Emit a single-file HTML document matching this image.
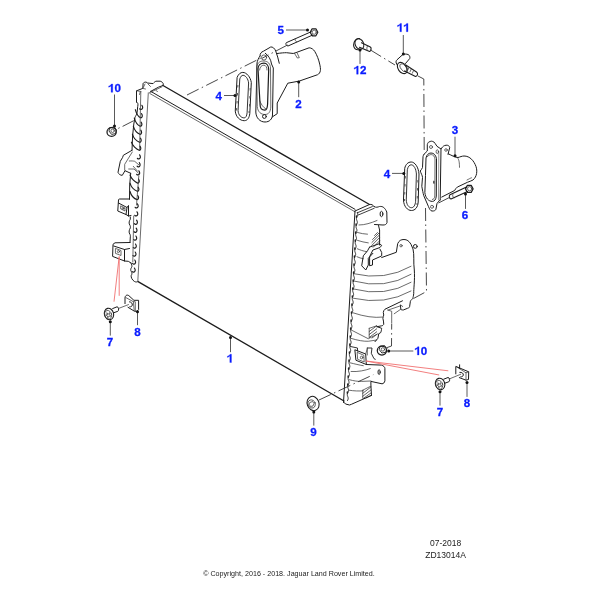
<!DOCTYPE html>
<html><head><meta charset="utf-8">
<style>
html,body{margin:0;padding:0;background:#fff;width:600px;height:600px;overflow:hidden}
svg{display:block;filter:blur(0.3px)}
.l{fill:none;stroke:#1c1c1c;stroke-width:1;stroke-linejoin:round;stroke-linecap:round}
.t{fill:none;stroke:#3a3a3a;stroke-width:0.75;stroke-linejoin:round;stroke-linecap:round}
.h{fill:none;stroke:#1c1c1c;stroke-width:1.35;stroke-linecap:round}
.d{fill:none;stroke:#333;stroke-width:0.9;stroke-dasharray:13 3.5 1.5 3.5}
.ld{fill:none;stroke:#5a5a5a;stroke-width:1}
.dot{fill:#111}
.r{fill:none;stroke:#f07070;stroke-width:0.9}
.lab{font-family:"Liberation Sans",sans-serif;font-weight:bold;font-size:11.6px;fill:#0a1cff;stroke:#0a1cff;stroke-width:0.3px;text-anchor:middle}
.txt{font-family:"Liberation Sans",sans-serif;fill:#222}
</style></head>
<body>
<svg width="600" height="600" viewBox="0 0 600 600">
<path class="h" d="M163,85.5 L369.5,204.5" />
<path class="l" d="M150.8,91.4 L355,209.3" />
<path class="t" d="M150,93.6 L355,211.8" />
<path class="t" d="M148.3,92.8 L137.8,281.5" />
<path class="h" d="M138.5,281.8 L344,401" />
<path class="l" d="M355,211 L343.5,402.5" />
<path class="l" d="M136.5,102 L136.5,90.8 L142.8,88.4 L143.1,83.5 C143.5,82.5 145,82 146.1,82.1 L147.6,83 L153,83.6 C154,82.5 155,81.5 156,81.2 L160.2,81.2 C161.5,81.5 162.8,82.5 163.2,83.6 L163.2,85.4 L158.4,87.2 L150.6,91.4" />
<path class="t" d="M136.5,90.8 L141,91.5 M142.8,88.4 L145.5,89 M143.3,87.5 L145,84 M148,84 L150.5,86.5 M149.4,92.8 L162,86.8 M156,90.5 L157.5,91.5" />
<path class="l" d="M136.5,102 C138,102.5 138.3,104 137.7,106.6 L137.1,112.6 C136.5,115 135.5,116 135,117.4 L133.8,124 L132.6,136 L132,150.3" />
<path class="l" d="M132,150.3 L123.3,155.3 L122.7,157.3 L120.3,161.3 L118,172.3 C118.5,174 120.5,175.5 122.3,175.3 L125,170.7 L130.7,173.3" />
<path class="t" d="M132.3,152 L124.7,164.3 L124.7,170.3" />
<path class="t" d="M129.3,161 C131.5,160.8 133.5,161 134.7,161.3 L138.7,164.7 M128.7,169 L134,169 L138.3,173 M133.3,166.3 L137.3,171" />
<path class="l" d="M130.7,173.3 L129.7,185 L129.5,199.3" />
<path class="l" d="M129.5,199 L119.5,199 C118.8,199 118.5,199.5 118.5,200 L117.75,211 L126,214.5 L128.5,216 L131,215.5" />
<path class="l" d="M118.5,203 L127,207.5 L126,214.5 M127,207.5 L128.5,205.5 L128.5,216" />
<path class="t" d="M121,206 L125,208 L125,211 L121,209 Z" />
<circle cx="123" cy="208.5" r="0.9" class="t"/>
<path class="l" d="M130.3,217 L130.3,219.3 C129,221 129,223 129.3,224 C130.5,226 130.5,227 130.3,228 C129,230 129,232 129.3,233 C130.5,235 130.5,236 130.3,237 L130,242.5" />
<path class="l" d="M130,242.5 L115,242.8 L113,244.3 L112.6,256.4 L124.5,261 L128.3,261.3 L131,263 M113.7,246 L124.5,249.5 L124.5,261 M124.5,249.5 L129.5,248.5" />
<path class="t" d="M115.8,248.5 L121,250.5 L121,255.5 L115.8,253.5 Z" />
<circle cx="118.4" cy="251.6" r="1.1" class="t"/>
<path class="l" d="M131,263 C131.5,265 132.5,266 131.5,267.5 C130.5,269 130.5,270.5 131.3,271.5 C132.3,273 132,274.5 131.2,275.5 C130.8,277 132,280 134.5,281.5 C136,282.3 137,282 138.2,281.5" />
<path style="stroke-width:1.15" class="l" d="M139.7,108.8 C140.2,109.4 140.6,109.5 141.0,109.4 C142.5,109.6 143.4,107.3 141.9,105.3 M135.3,109.7 C136.3,113.2 137.8,116.7 140.6,117.8 C142.1,118.0 143.0,115.7 141.5,113.7 M134.3,118.1 C135.3,121.6 137.4,125.1 140.2,126.2 C141.7,126.4 142.6,124.1 141.1,122.1 M133.3,126.2 C134.3,129.7 137.1,133.2 139.9,134.3 C141.4,134.5 142.3,132.2 140.8,130.2 M132.4,134.2 C133.4,137.7 136.7,141.2 139.5,142.3 C141.0,142.5 141.9,140.2 140.4,138.2 M131.4,142.2 C132.4,145.7 136.3,149.2 139.1,150.3 C140.6,150.5 141.5,148.2 140.0,146.2 M137.4,158.3 C137.9,158.9 138.3,159.0 138.7,158.9 C140.2,159.1 141.1,156.8 139.6,154.8 M137.1,166.2 C137.6,166.8 138.0,166.9 138.4,166.8 C139.9,167.0 140.8,164.7 139.3,162.7 M136.7,174.3 C137.2,174.9 137.6,175.0 138.0,174.9 C139.5,175.1 140.4,172.8 138.9,170.8 M130.0,175.0 C131.0,178.5 134.8,182.0 137.6,183.1 C139.1,183.3 140.0,181.0 138.5,179.0 M130.0,183.2 C131.0,186.7 134.4,190.2 137.2,191.3 C138.7,191.5 139.6,189.2 138.1,187.2 M130.0,191.5 C131.0,195.0 134.1,198.5 136.9,199.6 C138.4,199.8 139.3,197.5 137.8,195.5 M135.2,207.3 C135.7,207.9 136.1,208.0 136.5,207.9 C138.0,208.1 138.9,205.8 137.4,203.8 M134.8,215.3 C135.3,215.9 135.7,216.0 136.1,215.9 C137.6,216.1 138.5,213.8 137.0,211.8 M134.4,223.7 C134.9,224.3 135.3,224.4 135.7,224.3 C137.2,224.5 138.1,222.2 136.6,220.2 M134.0,231.7 C134.5,232.3 134.9,232.4 135.3,232.3 C136.8,232.5 137.7,230.2 136.2,228.2 M133.7,239.5 C134.2,240.1 134.6,240.2 135.0,240.1 C136.5,240.3 137.4,238.0 135.9,236.0 M133.3,247.5 C133.8,248.1 134.2,248.2 134.6,248.1 C136.1,248.3 137.0,246.0 135.5,244.0 M133.0,255.5 C133.5,256.1 133.9,256.2 134.3,256.1 C135.8,256.3 136.7,254.0 135.2,252.0 M132.6,263.5 C133.1,264.1 133.5,264.2 133.9,264.1 C135.4,264.3 136.3,262.0 134.8,260.0 M132.2,271.5 C132.7,272.1 133.1,272.2 133.5,272.1 C135.0,272.3 135.9,270.0 134.4,268.0 "/>
<path class="t" d="M140.8,92 L139.6,150 M138.8,176 L136.5,205 M133.7,216 L132.8,262" />
<path class="t" d="M140.2,92 L139.5,94.5" />
<path class="l" d="M355,211 L369.5,204.5 C371.5,204 373,205 374,206.5" />
<path style="stroke-width:0.85" class="l" d="M357.3,212.8 L372.3,206.6 M358.3,215 L374.2,208.3"/>
<path class="l" d="M374,206.5 C376,208 378,207 379.5,206.5 C383,206 385,208 386.8,212 L387,222.5 C386.5,224.5 385,225 383,225 L374.5,224.5" />
<ellipse cx="381.5" cy="214" rx="1.4" ry="2.7" class="l"/>
<path class="t" d="M359,225 C365,225 371,223 377,220.5" />
<path class="l" d="M378.5,225.5 L379.6,230 L379.6,245" />
<path class="t" d="M357.5,232.5 C361,233.5 364,234 367.5,234.2 M357.5,240.4 C361,241.5 365,242.5 368.3,242.9 M357.3,248.75 C360,250 363,251 366.7,251.7 M357,256.7 C359,257.5 361,258.5 363.3,258.75" />
<path style="stroke-width:0.8" d="M371.7,245.5 L379.6,237.5 M371.9,242.5 L379.6,234.8 M372.5,239.5 L379.6,232.4 M374.5,235.5 L377.5,232.5 M373.2,247.3 L379.6,240.8" class="t"/>
<path class="l" d="M369.6,247.1 L379.2,243.75 L381.7,245.4 L380,247.5 L372.9,250 L369.6,256.7 L369.6,265.8 L372.5,265 L372.5,260 L380,256.7 L381.7,255.8 L381.7,252.5 L380,249.2" />
<path class="l" d="M369.6,247.1 L367.5,250.8 L363.3,255.8 L361.7,265.8 L365.8,270 L368.3,265 L368.3,258.3 L372.9,253.3" />
<path class="l" d="M381.7,257.5 L396.3,252.3 L397.7,243.7 C399,240.5 401,239.5 404,239.5 C407,239.5 409,241 411,244.3 L413,249 C414.5,255 413.2,262 414.3,270 C415,280 413.5,290 413.75,293.3 C413.5,296 413,297.5 412.9,298.3 C411.5,300 410.5,300.5 410.4,301.25 L409.6,306.7 C409,307.8 408.5,308.3 407.5,308.3 L403.3,310 C402,310 401,309.8 400.8,309.2 L400.4,305" />
<path class="l" d="M402.5,300.8 L385,309.2 C384,310 383.5,311 383.3,312.5 L383.75,315 C383.5,316.5 382.9,317 382.9,318.3 C383.2,320 383.75,322 383.75,324.2 C383.5,325 382.5,325.8 381.7,325.8 L377,326.7" />
<path class="l" d="M377,326.7 L381.7,328.3 C381.5,330 381,332 380.8,332.5 L378.75,333.75 L377.9,338.3 L375,341.7" />
<circle cx="415.3" cy="246.4" r="1.9" class="l"/>
<circle cx="401" cy="245.7" r="1.2" class="t"/>
<path class="t" d="M353.5,273.7 Q385,281.2 411,266.3" />
<path class="t" d="M353.5,281 Q385,289.8 411,274.3" />
<path class="t" d="M353.5,289 Q385,297.5 411,282.3" />
<path class="t" d="M353.5,298.3 Q385,305.5 411,291" />
<path class="t" d="M353.3,312.9 Q370,318.5 382.5,317.1" />
<path class="t" d="M388.3,310 L401.7,305.4 L402.5,306.7 M394.2,313.75 L400.8,309.2 M387.5,310 L391.7,311.25 L391.7,323.3" />
<path style="stroke-width:0.8" d="M369.2,331.5 L376.7,325.8 M369.2,334.5 L376.7,328.8 M369.2,337.5 L376.7,331.8 M372,338 L376.7,334.5" class="t"/>
<path class="t" d="M369.2,328.3 L376.7,325.8 M369.2,328.3 L369.2,337.5" />
<path class="t" d="M351.25,330 L368.3,338.75 L377.9,333.75 M350.8,338.3 C358,340.5 364,341.5 368.3,341.25 L376.7,340" />
<path style="stroke-width:0.9" class="l" d="M350.5,346.5 L357.5,348 L357.5,351 M367.3,348 L372,348 L371.3,353.3 L374,358.7 L375.3,359.3"/>
<path class="t" d="M367.3,348 L367.3,355" />
<path class="l" d="M355.2,349.9 L365.7,354 L366.3,364.5 L356.3,360.4 Z" />
<path class="t" d="M357.5,352.5 L363.8,355.3 L364.2,362 L358,359.5 Z" />
<circle cx="361.6" cy="357.5" r="1.3" class="t"/>
<path class="t" d="M365.7,354 L367.4,348.2" />
<path class="l" d="M366.3,364.5 L381.4,365.1 C383.5,365.7 384.9,367 384.9,368.5 L384.9,380.8 C384.5,382.5 383.5,383.8 382,383.8 L370.9,381.4 L370.9,385.5 L371.5,395.4" />
<ellipse cx="379.1" cy="372.1" rx="1.1" ry="2.4" class="l"/>
<path class="t" d="M349.9,362.75 C355,364 359,365 363.3,365.7 M351.1,371.5 C358,372 365,370.5 370.3,368.6 M349.3,379.7 C354,381 358,381.5 361.6,381.4 L370.9,381 M349,390.2 C354,391 359,391.2 363.3,390.8" />
<path style="stroke-width:0.8" d="M362.75,393.3 L370.9,387 M362.75,396.3 L370.9,390 M363.5,398.3 L370.9,393 M366,398 L370.9,395.5" class="t"/>
<path class="t" d="M362.75,390.2 L370.9,386.1 M362.75,390.2 L362.75,398.3" />
<path class="l" d="M344.2,402.5 L345.5,404 L349.5,405 L351.5,404.25 L371.5,395.4" />
<path style="stroke-width:0.9" class="l" d="M357.30,212.5 L357.64,213.5 L357.75,214.5 L357.53,215.5 L357.09,216.5 L356.65,217.5 L356.44,218.5 L356.55,219.5 L356.88,220.5 L357.22,221.5 L357.33,222.5 L357.12,223.5 L356.68,224.5 L356.24,225.5 L356.02,226.5 L356.13,227.5 L356.47,228.5 L356.80,229.5 L356.91,230.5 L356.70,231.5 L356.26,232.5 L355.82,233.5 L355.61,234.5 L355.72,235.5 L356.05,236.5 L356.39,237.5 L356.50,238.5 L356.28,239.5 L355.84,240.5 L355.40,241.5 L355.19,242.5 L355.30,243.5 L355.64,244.5 L355.97,245.5 L356.08,246.5 L355.87,247.5 L355.43,248.5 L354.99,249.5 L354.77,250.5 L354.88,251.5 L355.22,252.5 L355.56,253.5 L355.67,254.5 L355.45,255.5 L355.01,256.5 L354.57,257.5 L354.36,258.5 L354.47,259.5 L354.80,260.5 L355.14,261.5 L355.25,262.5 L355.04,263.5 L354.60,264.5 L354.16,265.5 L353.94,266.5 L354.05,267.5 L354.39,268.5 L354.72,269.5 L354.83,270.5 L354.62,271.5 L354.18,272.5 L353.74,273.5 L353.53,274.5 L353.64,275.5 L353.97,276.5 L354.31,277.5 L354.42,278.5 L354.20,279.5 L353.76,280.5 L353.32,281.5 L353.11,282.5 L353.22,283.5 L353.56,284.5 L353.89,285.5 L354.00,286.5 L353.79,287.5 L353.35,288.5 L352.91,289.5 L352.69,290.5 L352.80,291.5 L353.14,292.5 L353.48,293.5 L353.59,294.5 L353.37,295.5 L352.93,296.5 L352.49,297.5 L352.28,298.5 L352.39,299.5 L352.72,300.5 L353.06,301.5 L353.17,302.5 L352.96,303.5 L352.52,304.5 L352.08,305.5 L351.86,306.5 L351.97,307.5 L352.31,308.5 L352.64,309.5 L352.75,310.5 L352.54,311.5 L352.10,312.5 L351.66,313.5 L351.45,314.5 L351.56,315.5 L351.89,316.5 L352.23,317.5 L352.34,318.5 L352.12,319.5 L351.68,320.5 L351.24,321.5 L351.03,322.5 L351.14,323.5 L351.48,324.5 L351.81,325.5 L351.92,326.5 L351.71,327.5 L351.27,328.5 L350.83,329.5 L350.61,330.5 L350.72,331.5 L351.06,332.5 L351.40,333.5 L351.51,334.5 L351.29,335.5 L350.85,336.5 L350.41,337.5 L350.20,338.5 L350.31,339.5 L350.64,340.5 L350.98,341.5 L351.09,342.5 L350.88,343.5 L350.44,344.5 L350.00,345.5 L349.78,346.5 L349.89,347.5 L350.23,348.5 L350.56,349.5 L350.67,350.5 L350.46,351.5 L350.02,352.5 L349.58,353.5 L349.37,354.5 L349.48,355.5 L349.81,356.5 L350.15,357.5 L350.26,358.5 L350.04,359.5 L349.60,360.5 L349.16,361.5 L348.95,362.5 L349.06,363.5 L349.40,364.5 L349.73,365.5 L349.84,366.5 L349.63,367.5 L349.19,368.5 L348.75,369.5 L348.53,370.5 L348.64,371.5 L348.98,372.5 L349.32,373.5 L349.43,374.5 L349.21,375.5 L348.77,376.5 L348.33,377.5 L348.12,378.5 L348.23,379.5 L348.56,380.5 L348.90,381.5 L349.01,382.5 L348.80,383.5 L348.36,384.5 L347.92,385.5 L347.70,386.5 L347.81,387.5 L348.15,388.5 L348.48,389.5 L348.59,390.5 L348.38,391.5 L347.94,392.5 L347.50,393.5 L347.29,394.5 L347.40,395.5 L347.73,396.5 L348.07,397.5 L348.18,398.5 L347.96,399.5 L347.52,400.5"/>
<path d="M356.52,216.0 l0,1.3 M356.10,224.0 l0,1.3 M355.69,232.0 l0,1.3 M355.27,240.0 l0,1.3 M354.85,248.0 l0,1.3 M354.44,256.0 l0,1.3 M354.02,264.0 l0,1.3 M353.61,272.0 l0,1.3 M353.19,280.0 l0,1.3 M352.77,288.0 l0,1.3 M352.36,296.0 l0,1.3 M351.94,304.0 l0,1.3 M351.53,312.0 l0,1.3 M351.11,320.0 l0,1.3 M350.69,328.0 l0,1.3 M350.28,336.0 l0,1.3 M349.86,344.0 l0,1.3 M349.45,352.0 l0,1.3 M349.03,360.0 l0,1.3 M348.61,368.0 l0,1.3 M348.20,376.0 l0,1.3 M347.78,384.0 l0,1.3 M347.37,392.0 l0,1.3 " stroke="#222" stroke-width="1.5" stroke-linecap="round" fill="none"/>
<path class="l" d="M260,56 C258.5,58 257.3,61 257,63 L255.8,112 C256,118 260,122 265,122 C269.5,122 272.3,119 272.5,115 L273.3,68 L271.5,64 C271,59.5 268.5,55.5 265.3,53.3" />
<path class="l" d="M260,56 C259.8,53.5 261.5,51.8 263.3,51.3 L270.7,47 C272.5,46.5 274.8,48.5 275.7,51 C277,55 278.5,59 279.3,63.3" />
<circle cx="264" cy="57.5" r="2.6" class="t"/>
<path class="t" d="M256.8,66 C257.5,62.5 260.5,60.8 264,61 C268,61.2 270.5,64 270.5,68 L270.8,107 C270.5,112 268.5,114.5 265,114.5 C261,114.5 257.8,112 257.3,107 Z" />
<path style="stroke-width:1.2" class="l" d="M258,69 C258,65.5 260.5,63.2 263.9,63.2 C266.8,63.2 268.7,66 268.7,69.6 L267.6,104 C267.4,107.5 266.5,110.1 264.9,110.1 C261.8,110.1 260.1,108 260.1,105 Z"/>
<path class="t" d="M259.6,70 C259.8,67 261.5,65.2 263.9,65.2 C266,65.2 267,67.5 267,70 M259.6,100.5 C261,104 263,107.5 266,109" />
<circle cx="264.4" cy="116.5" r="1.9" class="l"/>
<path class="l" d="M277.2,53.5 C281,53 284,52.7 286.4,52.7 L293.5,53.5 L309.1,47.8 C311.5,47.8 313.5,49.5 314.7,51.3 C317,55 318.8,60 319.7,64.1 C320.3,66.5 320.6,69 320.4,70.5 C320.2,72.5 319,74 317.6,74.7 L299.2,81.1 L287.8,83.2 L277.2,103 L277.2,113.7 L272.2,117" />
<path class="t" d="M294.3,53 L297.3,58 L299.3,57.7 L297.3,53.3" />
<path class="l" d="M237.25,77 C238.5,74 240.5,72.4 242.8,72.4 C246.5,72.4 250.5,77 251.3,82.5 L249.8,113.5 C249.3,118 247.3,120.7 244.3,120.7 C240,120.7 235.8,117 235.3,111.5 Z" />
<path style="stroke-width:0.9" class="l" d="M239.9,78.6 C240.6,76.5 241.7,75.3 243,75.3 C245.5,75.3 248.2,78.8 248.6,83 L247.1,112.8 C246.8,116 245.7,117.9 244.2,117.9 C241.3,117.9 238.4,115.3 238.1,111 Z"/>
<path d="M237.9,85 l-0.1,2.5 M237.5,93 l-0.1,2.5 M237.1,101 l-0.1,2.5 M236.7,108 l-0.1,2.5 M250.2,88 l-0.05,2.5 M249.9,96 l-0.05,2.5 M249.6,104 l-0.05,2.5 M249.1,111 l-0.05,2" stroke="#555" stroke-width="1" fill="none"/>
<path class="l" d="M311.3,31.7 L286.3,42.7 C285.5,43.3 285.8,45.8 288,46 L312.7,35" />
<path class="t" d="M295.2,38.5 C294.6,39.5 295.5,41.5 296.7,42" />
<path style="stroke-width:1.2" class="l" d="M317.8,32.3 L315.9,35.8 L312.1,35.8 L310.2,32.3 L312.1,28.8 L315.9,28.8 Z"/>
<circle cx="314.2" cy="32.2" r="2.1" class="t"/>
<path style="stroke-width:1.1" class="l" d="M359.5,38.6 C356,38.2 353.6,41.5 353.6,45 C353.6,48 355.6,50 358.3,49.8"/>
<ellipse style="stroke-width:1" cx="359.4" cy="44" rx="4.2" ry="5.5" class="l" transform="rotate(-25 359.4 44)"/>
<path style="stroke-width:1.1" class="l" d="M361.5,42.8 L370.3,47 C371.6,47.8 371.4,50.6 369.6,51.5 L359.5,47.3"/>
<path class="t" d="M367.5,46 C366.6,47.3 366.6,49.5 367.4,50.6" />
<path class="l" d="M397.5,65.5 L396.2,63 C395.8,61.5 396.2,60.5 397,59.8 L402.5,54.8 C404,53.8 406.5,53.9 408.3,54.6 C409.6,55.4 410.2,57 409.75,58.5 L405.5,63.5" />
<ellipse style="stroke-width:1.1" cx="402.3" cy="68" rx="4.2" ry="6.2" class="l" transform="rotate(-35 402.3 68)"/>
<ellipse cx="403.3" cy="67.6" rx="2.6" ry="4.4" class="t" transform="rotate(-35 403.3 67.6)"/>
<path style="stroke-width:1.05" class="l" d="M405.8,65 L416.5,72 C418.3,73.3 417.8,76.2 415.5,76.5 L404.5,71"/>
<path class="t" d="M409,67.5 l-1.3,2.8 M411.3,69 l-1.3,2.8 M413.6,70.5 l-1.3,2.8" />
<path class="l" d="M424,154.3 L427.3,151 L427.3,144.7 C427.6,143 428.3,142.2 429,142 C430.3,141.3 431.5,141 432.3,141.3 C433.5,141.5 434.5,142.3 435,143.3 L437,146.3 L441,149 C442,147.5 443,146.2 444.3,145.7 C445.5,145.2 446.7,145 447.7,145.3 C449,145.8 449.8,146.8 449.7,147.7 L448,154.3" />
<path class="l" d="M424,154.3 C423.3,155.5 423,156 423,157 L422.5,167.5 C422.2,169 420.8,170 420.2,171 C420.8,173 422.5,175.5 422.5,177.5 L421.8,186.3 C422.5,190 423,193 423.75,195.7 L428.4,206.4 C429.5,209 430.5,211 432,211 C434,211.2 435.5,210.5 435.9,209.3 L437,203.5 L438.1,202.1 L440.2,200" />
<path class="l" d="M441,149 L440.2,200" />
<path style="stroke:#777" class="t" d="M438.8,151.5 L438.5,200"/>
<circle cx="431" cy="147" r="1.5" class="t"/><circle cx="446" cy="150" r="1.3" class="t"/><circle cx="432" cy="206.8" r="1.5" class="t"/>
<ellipse cx="437.3" cy="151.7" rx="1.2" ry="1.9" class="t"/>
<path class="l" d="M425.5,175 L426,158 C426.5,155 428.5,153 431,153 C433.5,153 435.8,154.8 436.5,158.5 L436.3,196 C436,199.5 434.5,201.4 432.4,201.4 C428.5,201.4 425.5,198 424.9,193 Z" />
<path class="t" d="M427.2,156.8 C428.5,155.2 430,154.5 431.3,154.6 C433.3,154.8 434.6,156.3 435,159 L434.8,196 C434.5,198.5 433.6,199.5 432.4,199.5" />
<path d="M434.2,181 C433.6,181.5 433.6,183 434.3,183.5" stroke="#222" stroke-width="1.2" fill="none"/>
<path class="l" d="M448.3,153.8 C452,155.5 455,157.5 458,157.5 C460,157 462,156 464,156 C470,156 474,161 476,166.5 C477.5,171 477,176.5 473,180 C471,181 469.5,181.5 467.4,182.3 L457.3,187.1 C456,187.8 455.3,189.5 454.6,190.5 L441.7,197.1" />
<path class="t" d="M458,158.5 C459,160 459.5,162.5 459.5,167.3" />
<path class="t" d="M467,180 C469,179 470.5,178 471.5,177.8" />
<path class="l" d="M404.8,168 C405.5,164.5 408,162 411.2,162 C414.8,162 418.5,167 419,174 L418.2,202 C417.8,207.5 415,210.5 411.5,210.5 C407.5,210.5 403.8,206.5 403.5,200.5 Z" />
<path style="stroke-width:0.9" class="l" d="M407.4,169.3 C408,166.5 409.5,164.8 411.2,164.8 C413.8,164.8 416.1,168.8 416.4,174 L415.6,201.3 C415.3,205.3 413.6,207.7 411.5,207.7 C408.9,207.7 406.5,204.8 406.3,200.3 Z"/>
<path d="M405.3,176 l-0.05,2.5 M405,184 l-0.05,2.5 M404.8,192 l-0.05,2.5 M404.6,199 l-0.05,2 M417.9,180 l-0.05,2.5 M417.6,188 l-0.05,2.5 M417.3,196 l-0.05,2.5 M417.1,203 l-0.05,2" stroke="#555" stroke-width="1" fill="none"/>
<path style="stroke-width:1.05" class="l" d="M466.5,187 L450,194.8 C448.8,195.5 449.2,198.8 451,199 L467.5,191.5"/>
<path class="t" d="M452.8,194.5 C452.2,195.5 452.8,197.2 454,197.7" />
<path style="stroke-width:1.2" class="l" d="M473.1,188.9 L471.2,192.4 L467.4,192.4 L465.5,188.9 L467.4,185.4 L471.2,185.4 Z"/>
<circle cx="469.6" cy="188.7" r="2.1" class="t"/>
<path class="d" d="M449.3,197.5 L438.5,203"/>
<ellipse style="stroke-width:1.25" cx="111.6" cy="132" rx="4.6" ry="4.4" class="l"/>
<path style="stroke-width:0.9" class="l" d="M110.2,127.6 L114.3,127 L116.6,129.9 L115.6,133.6 L111.6,134.4 L109.2,131.3 Z"/>
<circle cx="112.6" cy="130.8" r="1.7" class="t"/>
<ellipse style="stroke-width:1.25" cx="381.9" cy="350.6" rx="4.6" ry="4.4" class="l"/>
<path style="stroke-width:0.9" class="l" d="M380.5,346.2 L384.6,345.6 L386.9,348.5 L385.9,352.2 L381.9,353 L379.5,349.9 Z"/>
<circle cx="382.9" cy="349.4" r="1.7" class="t"/>
<ellipse style="stroke-width:1.05" cx="313.1" cy="403.5" rx="5.9" ry="7.3" class="l" transform="rotate(-20 313.1 403.5)"/>
<ellipse cx="311.7" cy="404" rx="3.6" ry="4.2" class="t" transform="rotate(-20 311.7 404)"/>
<path class="t" d="M310,402.5 L312.5,401.5 L314,403.5 L313,406 L310.5,406.5 L309.3,404.5 Z" />
<ellipse style="stroke-width:1.1" cx="109" cy="314" rx="4.6" ry="5.8" class="l" transform="rotate(-15 109 314)"/>
<ellipse cx="108.2" cy="314.8" rx="3.4" ry="4.4" class="t" transform="rotate(-15 108.2 314.8)"/>
<path class="t" d="M106.8,313 L108.5,313.8 L109.8,312.6 L109.6,314.8 L110.8,316.2 L108.8,316.2 L107.8,317.8 L107.3,315.8 L105.8,315 L107.5,314.5 Z" />
<path class="l" d="M112.6,308.6 L117,306.8 C118.8,306.6 119.2,310.8 117.8,311.3 L113.6,312.8" />
<path class="t" d="M118.4,308.5 L128.5,304.6" />
<path class="l" d="M125,303.6 L125,297.5 C125.3,295.8 126.5,295 127.3,295.1 C128,295.1 128.6,295.4 129,295.8 L133.9,300.3 L138.6,300.3 L138.6,309.6 L137,311.2 L134.6,311.3 L128,307.3" />
<path class="t" d="M125.7,297.5 L133.4,301.7 L135.3,301.7 L135.3,311 M133.4,301.7 L134.2,310.8" />
<path class="l" d="M129.5,301.8 C131.5,302 132.5,303.5 132.3,305 C132,306.5 131,307 129.8,306.8" />
<ellipse style="stroke-width:1.1" cx="440.1" cy="384" rx="4.7" ry="5.8" class="l" transform="rotate(-15 440.1 384)"/>
<ellipse cx="439.3" cy="384.8" rx="3.4" ry="4.4" class="t" transform="rotate(-15 439.3 384.8)"/>
<path class="t" d="M437.9,383 L439.6,383.8 L440.9,382.6 L440.7,384.8 L441.9,386.2 L439.9,386.2 L438.9,387.8 L438.4,385.8 L436.9,385 L438.6,384.5 Z" />
<path class="l" d="M443.7,379.2 L448,377.5 C449.8,377.3 450.2,381.3 448.8,381.8 L444.6,383.3" />
<path class="t" d="M449.2,379 L460.75,374.25" />
<path class="l" d="M455.8,373.9 L455.8,366.4 L468.7,371.8 L468.5,379.5 L466,380.2 L459.3,377.6" />
<path class="t" d="M466,372.8 L466,380.2 M456.5,366.8 L466,372.8 L468.7,371.8" />
<path class="l" d="M459.6,364.8 L459.6,368.5" />
<path class="l" d="M459.8,372.3 C462,372 463.5,373.5 463.3,375 C463,376.5 462,377 460.8,376.8" />
<path class="d" d="M187,95 L262,57.5"/>
<path class="ld" style="stroke:#333;stroke-width:0.9" d="M118.3,128.4 L119.6,127.7 M122.6,126.4 L133.7,120.7"/>
<path class="d" d="M287.5,45 L262,58.3"/>
<path class="d" d="M370,49.7 L395,65"/>
<path class="d" d="M418,76 L423.8,79 L424.2,150 M425.5,208 L426.5,291.5 L413.5,298.5"/>
<path class="d" d="M386.7,347.7 L391.5,346 L391.7,324"/>
<path class="d" d="M319,400 L373.3,374.7"/>
<path class="r" d="M119.2,256.5 L114,301.7 M119.2,256.5 L119.2,295.8"/>
<path class="r" d="M366,361 L448.3,370.8 M366,361 L439.2,375"/>
<path class="ld" d="M114.5,94.5 L114.5,126 M286,30 L307.5,30 M298.7,82 L298.7,97.2 M224,95.5 L235,95.5 M403.3,35 L403.3,54 M360,50 L360,63.9 M455,136.7 L455,155.8 M392,173.4 L403.8,173.4 M465.5,194 L465.5,208.9 M388.7,351 L413.3,351 M230.5,337.5 L230.5,352.2 M110.3,321.7 L110.3,335.6 M137.5,311.7 L137.5,325.2 M440,391.7 L440,405.6 M467,382.5 L467,396.9 M313.8,412 L313.8,425.6"/>
<circle class="dot" cx="114.5" cy="126" r="1.5"/>
<circle class="dot" cx="307.5" cy="30" r="1.5"/>
<circle class="dot" cx="298.7" cy="82" r="1.5"/>
<circle class="dot" cx="235" cy="95.5" r="1.5"/>
<circle class="dot" cx="403.3" cy="54" r="1.5"/>
<circle class="dot" cx="360" cy="50" r="1.5"/>
<circle class="dot" cx="455" cy="155.8" r="1.5"/>
<circle class="dot" cx="403.8" cy="173.4" r="1.5"/>
<circle class="dot" cx="465.5" cy="194" r="1.5"/>
<circle class="dot" cx="388.7" cy="351" r="1.5"/>
<circle class="dot" cx="230.5" cy="337.5" r="1.5"/>
<circle class="dot" cx="110.3" cy="321.7" r="1.5"/>
<circle class="dot" cx="137.5" cy="311.7" r="1.5"/>
<circle class="dot" cx="440" cy="391.7" r="1.5"/>
<circle class="dot" cx="467" cy="382.5" r="1.5"/>
<circle class="dot" cx="313.8" cy="412" r="1.5"/>
<path d="M403,0 L403,716 L287,716 C264,652 217,604 141,574 C110,562 80,554 56,550 L56,436 C145,464 210,502 263,550 L263,0 Z" fill="#0a1cff" stroke="#0a1cff" stroke-width="25" transform="translate(108.05,92.3) scale(0.01160,-0.01160)"/>
<text class="lab" x="117.72" y="92.3">0</text>
<text class="lab" x="280.80" y="33.8">5</text>
<text class="lab" x="298.50" y="107.5">2</text>
<text class="lab" x="218.70" y="99.5">4</text>
<path d="M403,0 L403,716 L287,716 C264,652 217,604 141,574 C110,562 80,554 56,550 L56,436 C145,464 210,502 263,550 L263,0 Z" fill="#0a1cff" stroke="#0a1cff" stroke-width="25" transform="translate(396.85,31.7) scale(0.01160,-0.01160)"/>
<path d="M403,0 L403,716 L287,716 C264,652 217,604 141,574 C110,562 80,554 56,550 L56,436 C145,464 210,502 263,550 L263,0 Z" fill="#0a1cff" stroke="#0a1cff" stroke-width="25" transform="translate(403.30,31.7) scale(0.01160,-0.01160)"/>
<path d="M403,0 L403,716 L287,716 C264,652 217,604 141,574 C110,562 80,554 56,550 L56,436 C145,464 210,502 263,550 L263,0 Z" fill="#0a1cff" stroke="#0a1cff" stroke-width="25" transform="translate(353.55,74.2) scale(0.01160,-0.01160)"/>
<text class="lab" x="363.22" y="74.2">2</text>
<text class="lab" x="455.00" y="134.2">3</text>
<text class="lab" x="387.00" y="177.5">4</text>
<text class="lab" x="465.00" y="219.2">6</text>
<path d="M403,0 L403,716 L287,716 C264,652 217,604 141,574 C110,562 80,554 56,550 L56,436 C145,464 210,502 263,550 L263,0 Z" fill="#0a1cff" stroke="#0a1cff" stroke-width="25" transform="translate(414.35,355) scale(0.01160,-0.01160)"/>
<text class="lab" x="424.02" y="355">0</text>
<path d="M403,0 L403,716 L287,716 C264,652 217,604 141,574 C110,562 80,554 56,550 L56,436 C145,464 210,502 263,550 L263,0 Z" fill="#0a1cff" stroke="#0a1cff" stroke-width="25" transform="translate(226.78,362.5) scale(0.01160,-0.01160)"/>
<text class="lab" x="110.00" y="345.9">7</text>
<text class="lab" x="137.50" y="335.5">8</text>
<text class="lab" x="440.00" y="415.9">7</text>
<text class="lab" x="467.00" y="407.2">8</text>
<text class="lab" x="313.50" y="435.9">9</text>
<text class="txt" x="445.6" y="545.8" font-size="8.5" text-anchor="middle">07-2018</text>
<text class="txt" x="445.6" y="558.3" font-size="8.5" text-anchor="middle">ZD13014A</text>
<text class="txt" x="289" y="576" font-size="7.15" text-anchor="middle">© Copyright, 2016 - 2018. Jaguar Land Rover Limited.</text>
</svg>
</body></html>
